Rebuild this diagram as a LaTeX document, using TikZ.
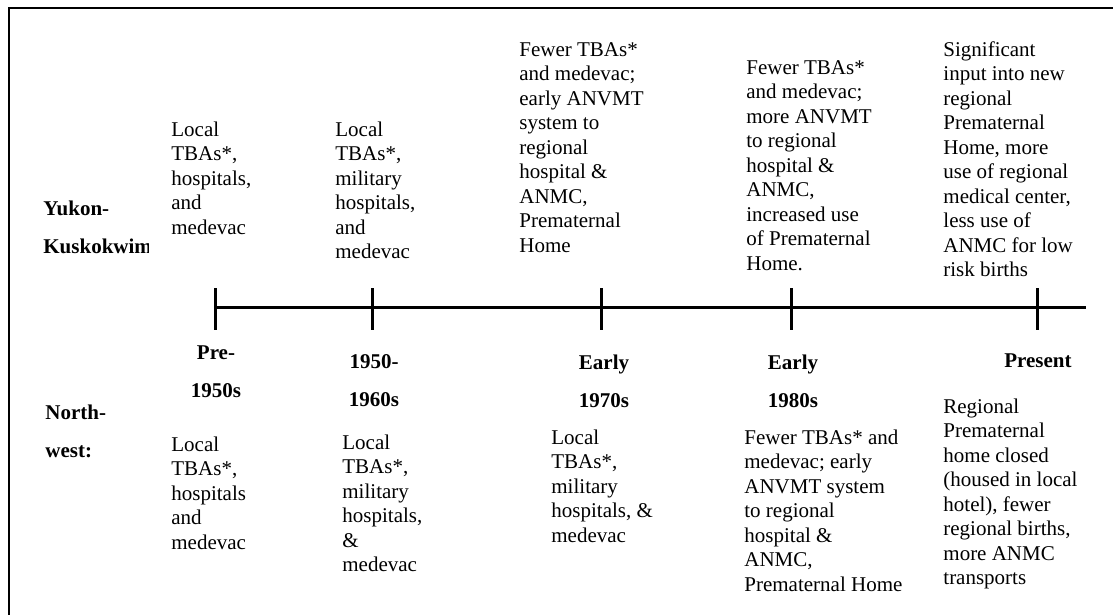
\documentclass[tikz,border=0pt]{standalone}
\usepackage{fontspec}
\setmainfont{Liberation Serif}
\usepackage{tikz}
\usetikzlibrary{positioning}
\tikzstyle{txt} = [inner sep=0pt, anchor=base west, align=left, font=\fontsize{10.5}{12.25}\selectfont]
\tikzstyle{lbl} = [inner sep=0pt, anchor=base, align=center, font=\fontsize{10.5}{18.75}\selectfont\bfseries]
\tikzstyle{side} = [lbl, anchor=base west, align=left]
\tikzstyle{tick} = [line width=1.5pt]

\begin{document}
\begin{tikzpicture}[x=0.5pt, y=-0.5pt]
    \useasboundingbox (0,0) rectangle (1113,615);
    \coordinate (fbl) at (9,615);
    \coordinate (ftl) at (9,8);
    \coordinate (ftr) at (1113,8);
    \draw [line width=0.6pt] (fbl) -- (ftl) -- (ftr);
    \coordinate (t1) at (215,307);
    \coordinate (t2) at (372,307);
    \coordinate (t3) at (601,307);
    \coordinate (t4) at (791,307);
    \coordinate (t5) at (1037,307);
    \coordinate (tend) at (1086,307);
    \draw [tick] (t1) -- (tend);
    \foreach \t in {t1,t2,t3,t4,t5}
        \draw [tick] (\t) ++(0,-19) -- ++(0,42);
    \begin{scope}
        \clip (0,150) rectangle (148,300);
        \node (yk) [side] at (43,253) {Yukon-\\Kuskokwim};
    \end{scope}
    \node (nw) [side] at (45,457) {North-\\west:};
    \node (p1) [lbl] at (216,397) {Pre-\\1950s};
    \node (p2) [lbl] at (374,406) {1950-\\1960s};
    \node (p3) [lbl] at (604,407) {Early\\1970s};
    \node (p4) [lbl] at (793,407) {Early\\1980s};
    \node (p5) [lbl] at (1038,367) {Present};
    \node (yk1) [txt] at (171,234) {Local\\TBAs*,\\hospitals,\\and\\medevac};
    \node (yk2) [txt] at (335,258.5) {Local\\TBAs*,\\military\\hospitals,\\and\\medevac};
    \node (yk3) [txt] at (519,252) {Fewer TBAs*\\and medevac;\\early ANVMT\\system to\\regional\\hospital \&\\ANMC,\\Prematernal\\Home};
    \node (yk4) [txt] at (746,270) {Fewer TBAs*\\and medevac;\\more ANVMT\\to regional\\hospital \&\\ANMC,\\increased use\\of Prematernal\\Home.};
    \node (yk5) [txt] at (943,276.5) {Significant\\input into new\\regional\\Prematernal\\Home, more\\use of regional\\medical center,\\less use of\\ANMC for low\\risk births};
    \node (nw1) [txt] at (171,549) {Local\\TBAs*,\\hospitals\\and\\medevac};
    \node (nw2) [txt] at (342,571.5) {Local\\TBAs*,\\military\\hospitals,\\\&\\medevac};
    \node (nw3) [txt] at (551,542) {Local\\TBAs*,\\military\\hospitals, \&\\medevac};
    \node (nw4) [txt] at (744,591) {Fewer TBAs* and\\medevac; early\\ANVMT system\\to regional\\hospital \&\\ANMC,\\Prematernal Home};
    \node (nw5) [txt] at (943,584.5) {Regional\\Prematernal\\home closed\\(housed in local\\hotel), fewer\\regional births,\\more ANMC\\transports};
\end{tikzpicture}
\end{document}
